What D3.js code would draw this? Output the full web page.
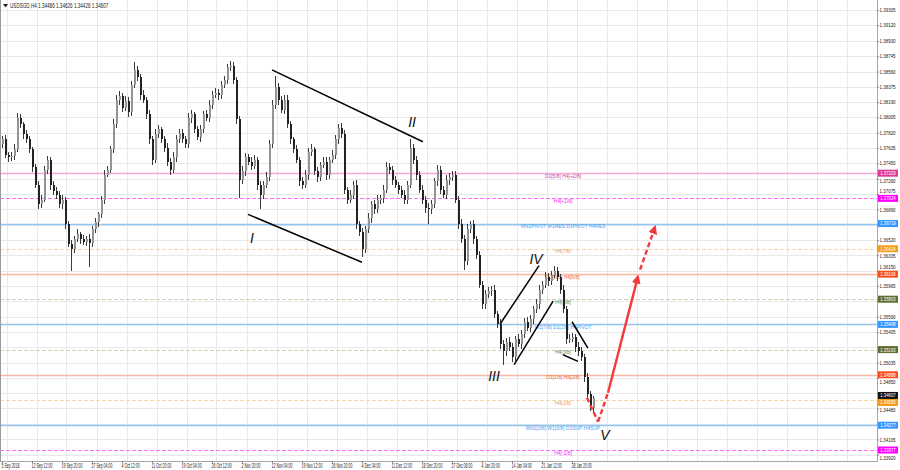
<!DOCTYPE html>
<html><head><meta charset="utf-8">
<script src="https://cdn.jsdelivr.net/npm/d3@7"></script>
<style>html,body{margin:0;padding:0;background:#fff;}svg{display:block;}</style>
</head><body>
<svg id="chart" width="900" height="470"></svg>
<script>
// ---------------- DATA ----------------
const symbol = "USDSGD,H4";
const lastBar = [1.34486, 1.34626, 1.34426, 1.34607]; // O H L C of last bar
const firstOpen = 1.3768;
const closes = [
1.3774,1.3755,1.3752,1.3754,1.3762,1.3800,1.3792,1.3780,1.3774,1.3762,
1.3740,1.3719,1.3695,1.3701,1.3737,1.3749,1.3719,1.3711,1.3707,1.3695,
1.3701,1.3671,1.3647,1.3641,1.3653,1.3659,1.3653,1.3650,1.3653,1.3648,
1.3665,1.3674,1.3683,1.3701,1.3731,1.3737,1.3762,1.3792,1.3822,1.3826,
1.3812,1.3820,1.3807,1.3840,1.3858,1.3849,1.3828,1.3822,1.3804,1.3774,
1.3749,1.3780,1.3786,1.3774,1.3764,1.3747,1.3737,1.3752,1.3774,1.3782,
1.3774,1.3768,1.3800,1.3804,1.3786,1.3777,1.3786,1.3804,1.3800,1.3816,
1.3828,1.3830,1.3828,1.3840,1.3846,1.3861,1.3863,1.3846,1.3798,1.3725,
1.3735,1.3752,1.3747,1.3742,1.3749,1.3719,1.3707,1.3719,1.3728,1.3768,
1.3816,1.3837,1.3822,1.3810,1.3822,1.3792,1.3774,1.3762,1.3749,1.3723,
1.3719,1.3731,1.3759,1.3762,1.3735,1.3728,1.3743,1.3747,1.3731,1.3749,
1.3755,1.3774,1.3788,1.3780,1.3713,1.3701,1.3707,1.3719,1.3671,1.3662,
1.3641,1.3665,1.3679,1.3695,1.3689,1.3701,1.3703,1.3713,1.3740,1.3737,
1.3725,1.3719,1.3713,1.3707,1.3701,1.3719,1.3764,1.3749,1.3731,1.3713,
1.3701,1.3691,1.3689,1.3695,1.3723,1.3737,1.3713,1.3707,1.3725,1.3728,
1.3731,1.3701,1.3671,1.3653,1.3626,1.3665,1.3671,1.3653,1.3634,1.3598,
1.3574,1.3586,1.3590,1.3592,1.3562,1.3550,1.3526,1.3517,1.3529,1.3522,
1.3510,1.3532,1.3526,1.3538,1.3553,1.3546,1.3556,1.3568,1.3574,1.3592,
1.3598,1.3607,1.3602,1.3610,1.3614,1.3607,1.3592,1.3568,1.3532,1.3532,
1.3534,1.3522,1.3517,1.3510,1.3486,1.3465,1.34486,1.34607
];
// wick sizes in pips above / below the candle body
const upWick = [
4,5,3,4,6,6,4,3,5,4, 3,4,5,6,4,5,3,4,5,4, 6,3,4,5,4,6,3,5,4,6, 4,5,3,4,6,5,4,6,5,7,
4,6,5,4,10,5,4,6,3,5, 4,6,5,3,4,5,4,6,5,4, 5,4,6,5,3,4,5,4,6,5, 4,6,5,4,5,4,6,5,3,4,
6,5,4,5,6,4,5,4,6,5, 6,13,5,4,6,5,4,3,5,4, 5,6,4,6,3,5,4,6,5,4, 6,5,4,6,5,3,5,4,6,4,
5,4,6,4,5,6,4,5,6,5, 4,5,3,4,6,5,10,4,5,4, 5,4,6,5,4,6,5,4,6,5, 4,5,4,6,5,6,4,5,4,5,
4,6,5,4,5,4,6,5,4,6, 5,4,6,5,4,6,5,4,6,5, 4,6,5,4,6,5,4,5,4,6, 5,4,6,5,4,5,4,2
];
const dnWick = [
5,4,6,4,5,3,4,6,4,5, 6,4,5,4,3,5,6,4,5,4, 5,6,4,27,5,4,6,4,5,29, 4,5,6,4,5,3,4,5,4,6,
5,4,6,5,4,5,6,4,5,6, 6,4,5,4,6,5,6,4,5,4, 4,5,4,6,5,4,6,5,4,5, 5,4,6,5,4,5,4,5,6,22,
5,6,4,5,4,6,18,5,4,5, 4,5,6,4,5,4,6,5,4,6, 5,4,6,5,4,6,5,4,6,5, 4,5,6,4,5,6,4,5,6,5,
10,5,4,6,5,4,5,6,4,5, 6,4,5,4,6,5,4,5,6,4, 5,6,18,5,4,6,5,4,5,6, 5,4,6,5,10,4,5,6,5,4,
6,5,4,6,5,4,6,16,5,4, 6,5,4,6,5,4,5,6,4,5, 5,4,6,5,4,5,6,4,6,5, 4,6,5,4,6,5,4,6
];

const yTicks = [1.39305,1.39120,1.38930,1.38745,1.38560,1.38375,1.38190,1.38005,1.37820,1.37635,
  1.37450,1.37260,1.37075,1.36890,1.36705,1.36520,1.36335,1.36150,1.35965,1.35780,1.35590,
  1.35405,1.35220,1.35035,1.34850,1.34665,1.34480,1.34295,1.34105,1.33920];

const xLabels = ["5 Sep 2018","12 Sep 12:00","19 Sep 20:00","27 Sep 04:00","4 Oct 12:00","11 Oct 20:00",
  "19 Oct 04:00","26 Oct 12:00","2 Nov 20:00","12 Nov 04:00","19 Nov 12:00","26 Nov 20:00","4 Dec 04:00",
  "11 Dec 12:00","18 Dec 20:00","27 Dec 08:00","4 Jan 20:00","14 Jan 04:00","21 Jan 12:00","28 Jan 20:00"];
const xLabelBars = [0,10,20,30,40,50,60,70,80,90,100,110,120,130,140,150,160,170,180,190];

const levelPrices = [1.37329,1.37024,1.36719,1.36414,1.36106,1.35803,1.35498,1.35193,1.34888,1.34583,1.34277,1.33977];
const levelLabels = ["D1[5/8] H4[+2/8]","H4[+1/8]","MN1PIVOT W1RES D1PIVOT H4RES","H4[7/8]","D1[3/8] H4[6/8]",
  "H4[5/8]","W1[7/8] D1[2/8] H4PIVOT","H4[3/8]","D1[1/8] H4[2/8]","H4[1/8]","MN1[3/8] W1[0/8] D1SUP H4SUP","H4[-1/8]"];
const levelKinds = ["pink","magenta","blue","orange","salmon","olive","blue","olive","salmon","orange","blue","magenta"];

// trend lines: [[bar, price],[bar, price]]
const trendLines = [
  [[90,1.3858],[140.3,1.3771]],
  [[82,1.3683],[120,1.3625]],
  [[166,1.3550],[179,1.3621]],
  [[170.7,1.3501],[183.7,1.3578]],
  [[190,1.3553],[195.3,1.3521]],
  [[187,1.3513],[192,1.3505]]
];
const waveNames = ["I","II","III","IV","V"];
const waveBars = [83.3,136.7,164,178,201];
const wavePrices = [1.3653,1.3793,1.3486,1.3628,1.3414];

// projected path (red)
const projDown = [[195,1.3461],[198.7,1.3432]];
const projUpDash = [[198.7,1.3432],[202,1.3467]];
const projUpSolid = [[202,1.3467],[212,1.3608]];
const projUpDash2 = [[212.7,1.3616],[217.7,1.3668]];

// ---------------- CHART ----------------
const W = 900, H = 470, plotL = 0, plotR = 877, plotT = 0, plotB = 461;
const svg = d3.select("#chart");
const x = d3.scaleLinear().domain([0, 100]).range([2, 302]);
const y = d3.scaleLinear().domain([1.39305, 1.33977]).range([10, 450]);
const font = "'Liberation Sans', Arial, sans-serif";
const py = p => Math.round(y(p)) + 0.5;

const style = {
  pink:   {line:"#f3a9d8", dash:null,  width:1.3, text:"#c4459a", box:"#dc3a98"},
  magenta:{line:"#ff6cff", dash:"4,2", width:1,   text:"#ff22ff", box:"#ff00ff"},
  blue:   {line:"#92c6f2", dash:null,  width:1.6, text:"#4a9ef0", box:"#3399ff"},
  orange: {line:"#f8d3a4", dash:"4,2", width:1,   text:"#f0a23a", box:"#f59b1d"},
  salmon: {line:"#f8b8a6", dash:null,  width:1.4, text:"#f0653a", box:"#f4511e"},
  olive:  {line:"#cfcfb6", dash:"4,2", width:1.2, text:"#6f8a30", box:"#5f6e30"}
};

svg.append("rect").attr("width", W).attr("height", H).attr("fill", "#fff");

const defs = svg.append("defs");
defs.append("clipPath").attr("id", "plot").append("rect")
  .attr("x", plotL).attr("y", plotT).attr("width", plotR - plotL).attr("height", plotB - plotT);
defs.append("marker").attr("id", "arrowRed").attr("viewBox", "0 0 10 10").attr("refX", 8).attr("refY", 5)
  .attr("markerWidth", 9).attr("markerHeight", 9).attr("markerUnits", "userSpaceOnUse").attr("orient", "auto")
  .append("path").attr("d", "M0,0 L10,5 L0,10 Z").attr("fill", "#f23a3a");

// scaled text helper
function sText(parent, tx, ty, str, size, sx, anchor, fill) {
  return parent.append("text")
    .attr("transform", `translate(${tx},${ty}) scale(${sx},1)`)
    .attr("x", 0).attr("y", 0)
    .attr("font-family", font).attr("font-size", size)
    .attr("text-anchor", anchor).attr("dominant-baseline", "middle")
    .attr("fill", fill).text(str);
}

// grid
const grid = svg.append("g").attr("shape-rendering", "crispEdges");
grid.selectAll("line.h").data(yTicks).join("line").attr("class", "h")
  .attr("x1", plotL).attr("x2", plotR).attr("y1", d => py(d)).attr("y2", d => py(d))
  .attr("stroke", "#e9e9e9");
const vBars = d3.range(0, 292, 10);
grid.selectAll("line.v").data(vBars).join("line").attr("class", "v")
  .attr("x1", d => Math.round(x(d + 1.5)) + 0.5).attr("x2", d => Math.round(x(d + 1.5)) + 0.5)
  .attr("y1", plotT).attr("y2", plotB).attr("stroke", "#e9e9e9");

// level lines
const lv = svg.append("g").attr("clip-path", "url(#plot)");
levelPrices.forEach((p, i) => {
  const s = style[levelKinds[i]];
  lv.append("line").attr("x1", plotL).attr("x2", plotR).attr("y1", py(p)).attr("y2", py(p))
    .attr("stroke", s.line).attr("stroke-width", s.width)
    .attr("stroke-dasharray", s.dash);
});
levelPrices.forEach((p, i) => {
  const s = style[levelKinds[i]];
  sText(lv, 563, y(p) + 3, levelLabels[i], 6.2, 0.8, "middle", s.text);
});

// candles
const candles = closes.map((c, i) => {
  const o = i ? closes[i - 1] : firstOpen;
  return {i, o, c, h: Math.max(o, c) + upWick[i] * 1e-4, l: Math.min(o, c) - dnWick[i] * 1e-4};
});
const cg = svg.append("g").attr("clip-path", "url(#plot)").attr("shape-rendering", "crispEdges");
cg.selectAll("line.w").data(candles).join("line").attr("class", "w")
  .attr("x1", d => Math.round(x(d.i)) + 0.5).attr("x2", d => Math.round(x(d.i)) + 0.5)
  .attr("y1", d => y(d.h)).attr("y2", d => y(d.l)).attr("stroke", "#3a3a3a");
cg.selectAll("rect.b").data(candles).join("rect").attr("class", "b")
  .attr("x", d => Math.round(x(d.i))).attr("width", 2)
  .attr("y", d => y(Math.max(d.o, d.c)))
  .attr("height", d => Math.max(1, Math.abs(y(d.o) - y(d.c))))
  .attr("fill", d => d.c >= d.o ? "#949494" : "#222");

// trend lines
const ann = svg.append("g").attr("clip-path", "url(#plot)");
ann.selectAll("line.t").data(trendLines).join("line").attr("class", "t")
  .attr("x1", d => x(d[0][0])).attr("y1", d => y(d[0][1]))
  .attr("x2", d => x(d[1][0])).attr("y2", d => y(d[1][1]))
  .attr("stroke", "#000").attr("stroke-width", 1.5);

// projection
function seg(pts, dashed, arrow) {
  const l = ann.append("line")
    .attr("x1", x(pts[0][0])).attr("y1", y(pts[0][1]))
    .attr("x2", x(pts[1][0])).attr("y2", y(pts[1][1]))
    .attr("stroke", "#f23a3a").attr("stroke-width", 2.4);
  if (dashed) l.attr("stroke-dasharray", "5,3");
  if (arrow) l.attr("marker-end", "url(#arrowRed)");
}
seg(projDown, true, false);
seg(projUpDash, true, false);
seg(projUpSolid, false, true);
seg(projUpDash2, true, true);

// wave labels
waveNames.forEach((n, i) => {
  ann.append("text").attr("x", x(waveBars[i])).attr("y", y(wavePrices[i]))
    .attr("text-anchor", "middle").attr("dominant-baseline", "middle")
    .attr("font-family", font).attr("font-style", "italic").attr("font-size", 14)
    .attr("fill", "#111").text(n);
});

// frame
const fr = svg.append("g").attr("shape-rendering", "crispEdges").attr("fill", "none");
fr.append("line").attr("x1", 0.5).attr("x2", 0.5).attr("y1", 0).attr("y2", plotB).attr("stroke", "#9a9a9a");
fr.append("line").attr("x1", plotR + 0.5).attr("x2", plotR + 0.5).attr("y1", 0).attr("y2", plotB + 1).attr("stroke", "#a8a8a8");
fr.append("line").attr("x1", 0).attr("x2", plotR + 1).attr("y1", plotB + 0.5).attr("y2", plotB + 0.5).attr("stroke", "#a8a8a8");

// ---- price boxes: positions (pushed apart when they would collide) ----
const boxes = [{p: lastBar[3], fill: "#111"}]
  .concat(levelPrices.map((p, i) => ({p, fill: style[levelKinds[i]].box})))
  .map(b => ({...b, cy: y(b.p)}))
  .sort((a, b) => a.cy - b.cy);
const BOXH = 7;
for (let k = 1; k < boxes.length; k++) {
  const gap = boxes[k].cy - boxes[k - 1].cy;
  if (gap < BOXH) { const d = (BOXH - gap) / 2; boxes[k - 1].cy -= d; boxes[k].cy += d; }
}

// y axis
const yAxis = svg.append("g").attr("transform", `translate(${plotR},0)`)
  .call(d3.axisRight(y).tickValues(yTicks).tickFormat(d3.format(".5f")).tickSize(2));
yAxis.select(".domain").remove();
yAxis.selectAll(".tick line").attr("stroke", "#888");
yAxis.selectAll(".tick text").each(function(d) {
  const ty = y(d);
  let shift = 0, hide = false;
  boxes.forEach(b => {
    const dist = ty - b.cy;
    if (Math.abs(dist) < 2.6) hide = true;
    else if (Math.abs(dist) < 7.5) shift = (dist > 0 ? 1 : -1) * (7.5 - Math.abs(dist));
  });
  const t = d3.select(this);
  if (hide) { t.remove(); return; }
  t.attr("x", 0).attr("dy", null)
    .attr("transform", `translate(2.5,${shift}) scale(0.72,1)`)
    .attr("dominant-baseline", "middle")
    .attr("font-family", font).attr("font-size", 6.2).attr("fill", "#222");
});

// x axis
const xAxis = svg.append("g").attr("transform", `translate(0,${plotB})`)
  .call(d3.axisBottom(x).tickValues(xLabelBars).tickFormat((d, i) => xLabels[i]).tickSize(2));
xAxis.select(".domain").remove();
xAxis.selectAll(".tick line").attr("stroke", "#888");
xAxis.selectAll(".tick text").attr("x", 0).attr("y", 0).attr("dy", null)
  .attr("transform", "translate(-1,5) scale(0.55,1)")
  .attr("text-anchor", "start").attr("dominant-baseline", "middle")
  .attr("font-family", font).attr("font-size", 6.4).attr("fill", "#222");

// price boxes
const bx = svg.append("g");
boxes.forEach(b => {
  bx.append("rect").attr("x", plotR + 1).attr("y", b.cy - BOXH / 2).attr("width", 20).attr("height", BOXH).attr("fill", b.fill);
  sText(bx, plotR + 11, b.cy + 0.4, d3.format(".5f")(b.p), 5.8, 0.74, "middle", "#fff");
});

// title
svg.append("path").attr("d", "M3,4 L8,4 L5.5,7.5 Z").attr("fill", "#222");
sText(svg, 10, 6.5, `${symbol}  ${lastBar.map(d3.format(".5f")).join(" ")}`, 6.4, 0.72, "start", "#222");
</script>
</body></html>
